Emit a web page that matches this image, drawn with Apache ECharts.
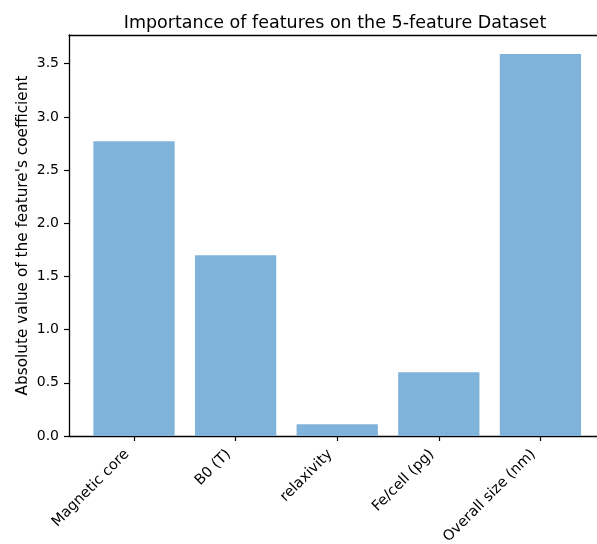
<!DOCTYPE html>
<html>
<head>
<meta charset="utf-8">
<script src="https://cdn.jsdelivr.net/npm/echarts@6/dist/echarts.min.js"></script>
<style>
  html, body { margin: 0; padding: 0; background: #ffffff; }
  #chart { width: 597px; height: 544px; }
</style>
</head>
<body>
<div id="chart"></div>
<script>
  // feature names and the absolute coefficient values
  const features = ['Magnetic core', 'B0 (T)', 'relaxivity', 'Fe/cell (pg)', 'Overall size (nm)'];
  const coefValues = [2.77, 1.70, 0.11, 0.60, 3.59];
  const yTicks = [0, 0.5, 1.0, 1.5, 2.0, 2.5, 3.0, 3.5];
  const xPositions = [0, 1, 2, 3, 4];

  const chart = echarts.init(document.getElementById('chart'));

  // the right spine of the original figure is cut off, so the x range
  // runs a bit past the right edge of the page
  const gridLeft = 69;
  const unitPx = 101.6;
  const xMin = -0.64;
  const xMax = xMin + (597 - gridLeft) / unitPx;
  const barWidth = 0.8 * unitPx;
  const font = 'DejaVu Sans';

  chart.setOption({
    animation: false,
    title: {
      text: 'Importance of features on the 5-feature Dataset',
      left: 330,
      top: 9,
      textAlign: 'center',
      textStyle: { fontFamily: font, fontSize: 17.5, fontWeight: 'normal', color: '#000' }
    },
    grid: { left: gridLeft, right: 0, top: 35, bottom: 108, outerBoundsMode: 'none', containLabel: false },
    xAxis: [{
      type: 'value',
      min: xMin,
      max: xMax,
      splitLine: { show: false },
      axisLine: { onZero: false, lineStyle: { color: '#000', width: 1.3 } },
      axisTick: { length: 5, lineStyle: { color: '#000', width: 1.2 }, customValues: xPositions },
      axisLabel: {
        customValues: xPositions,
        formatter: v => features[Math.round(v)],
        rotate: 45,
        margin: 9,
        padding: [0, 10, 0, 0],
        fontFamily: font,
        fontSize: 14.5,
        color: '#000'
      }
    }, {
      // top spine
      type: 'value',
      position: 'top',
      min: xMin,
      max: xMax,
      splitLine: { show: false },
      axisLine: { show: true, onZero: false, lineStyle: { color: '#000', width: 1.3 } },
      axisTick: { show: false },
      axisLabel: { show: false }
    }],
    yAxis: {
      type: 'value',
      min: 0,
      max: 3.59 * 1.05,
      name: "Absolute value of the feature's coefficient",
      nameLocation: 'middle',
      nameGap: 38,
      nameMoveOverlap: false,
      nameTextStyle: { fontFamily: font, fontSize: 15.3, color: '#000' },
      splitLine: { show: false },
      axisLine: { show: true, onZero: false, lineStyle: { color: '#000', width: 1.3 } },
      axisTick: { show: true, length: 5, lineStyle: { color: '#000', width: 1.2 }, customValues: yTicks },
      axisLabel: {
        customValues: yTicks,
        formatter: v => v.toFixed(1),
        margin: 10,
        fontFamily: font,
        fontSize: 14,
        color: '#000'
      }
    },
    series: [{
      type: 'bar',
      xAxisIndex: 0,
      data: xPositions.map((x, i) => [x, coefValues[i]]),
      barWidth: barWidth,
      itemStyle: { color: '#7fb3d9' }
    }]
  });
</script>
</body>
</html>
